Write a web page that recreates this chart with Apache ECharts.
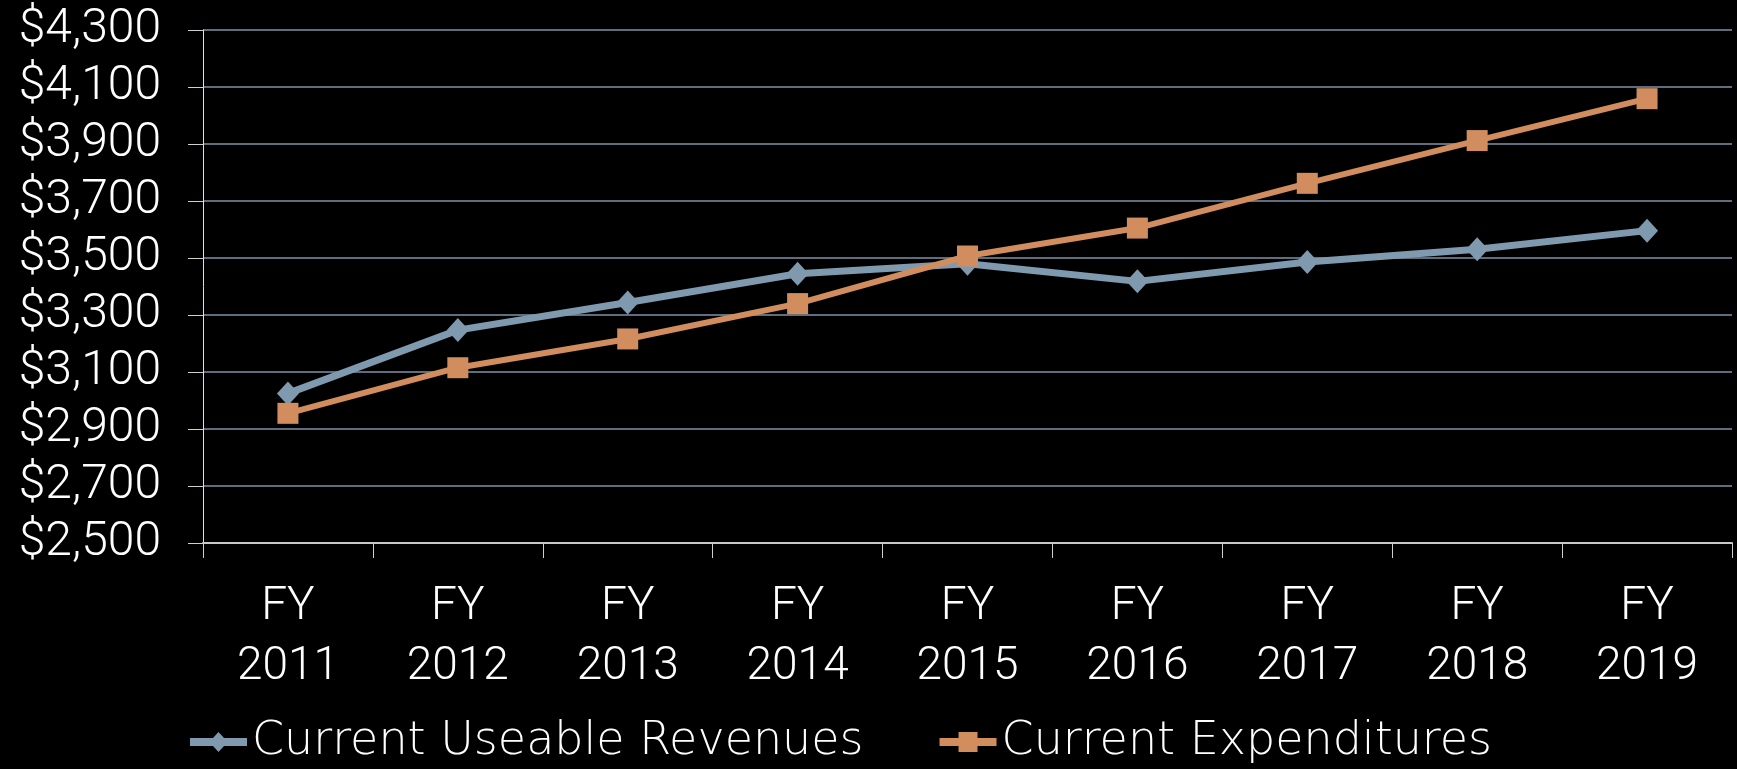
<!DOCTYPE html>
<html>
<head>
<meta charset="utf-8">
<script src="https://cdn.jsdelivr.net/npm/echarts@6/dist/echarts.min.js"></script>
<style>
  html, body { margin: 0; padding: 0; background: #000; }
  #chart { width: 1737px; height: 769px; }
</style>
</head>
<body>
<div id="chart"></div>
<script>
const years = ["FY\n2011", "FY\n2012", "FY\n2013", "FY\n2014", "FY\n2015", "FY\n2016", "FY\n2017", "FY\n2018", "FY\n2019"];
const revenues = [3025, 3247, 3344, 3445, 3480, 3418, 3486, 3531, 3596];
const expenditures = [2955, 3115, 3216, 3340, 3507, 3605, 3762, 3912, 4059];

const chart = echarts.init(document.getElementById("chart"));
const font = "Roboto";

// legend icons: thick line with the marker in the middle
const iconDiamond = "path://M0,6L23,6L28.5,0L34,6L57,6L57,14L34,14L28.5,20L23,14L0,14Z";
const iconSquare = "path://M0,6L19,6L19,0L38,0L38,6L57,6L57,14L38,14L38,20L19,20L19,14L0,14Z";

const option = {
  backgroundColor: "#000",
  animation: false,
  grid: {
    left: 203,
    right: 5,
    top: 30,
    bottom: 226,
    containLabel: false,
    outerBoundsMode: "none",
  },
  legend: {
    left: 185,
    top: 714,
    itemWidth: 57,
    itemHeight: 20,
    itemGap: 76,
    textStyle: {
      color: "#fff",
      fontSize: 46,
      fontFamily: "DejaVu Sans",
      fontWeight: 200,
    },
    data: [
      { name: "Current Useable Revenues", icon: iconDiamond },
      { name: "Current Expenditures", icon: iconSquare },
    ],
  },
  xAxis: {
    type: "category",
    data: years,
    boundaryGap: true,
    axisLine: { lineStyle: { color: "#c8c8c8", width: 2 } },
    axisTick: { show: true, length: 15, lineStyle: { color: "#d0d0d0", width: 1 } },
    axisLabel: {
      color: "#fff",
      fontSize: 46,
      fontFamily: font,
      fontWeight: 300,
      lineHeight: 60,
      margin: 34,
      interval: 0,
    },
    splitLine: { show: false },
  },
  yAxis: {
    type: "value",
    min: 2500,
    max: 4300,
    interval: 200,
    axisLine: { show: true, lineStyle: { color: "#e0e0e0", width: 1 } },
    axisTick: { show: true, length: 15, lineStyle: { color: "#d0d0d0" } },
    axisLabel: {
      color: "#fff",
      fontSize: 48,
      fontFamily: font,
      fontWeight: 300,
      margin: 42,
      formatter: (v) => "$" + v.toLocaleString("en-US"),
    },
    splitLine: { lineStyle: { color: "#7f93a8", width: 1.5 } },
  },
  series: [
    {
      name: "Current Useable Revenues",
      type: "line",
      data: revenues,
      symbol: "diamond",
      symbolSize: [22, 24],
      color: "#7f99ae",
      lineStyle: { width: 7, color: "#7f99ae" },
      itemStyle: { color: "#7f99ae" },
      z: 3,
    },
    {
      name: "Current Expenditures",
      type: "line",
      data: expenditures,
      symbol: "rect",
      symbolSize: 21,
      color: "#d18d5e",
      lineStyle: { width: 6, color: "#d18d5e" },
      itemStyle: { color: "#d18d5e" },
      z: 4,
    },
  ],
};

chart.setOption(option);
</script>
</body>
</html>
